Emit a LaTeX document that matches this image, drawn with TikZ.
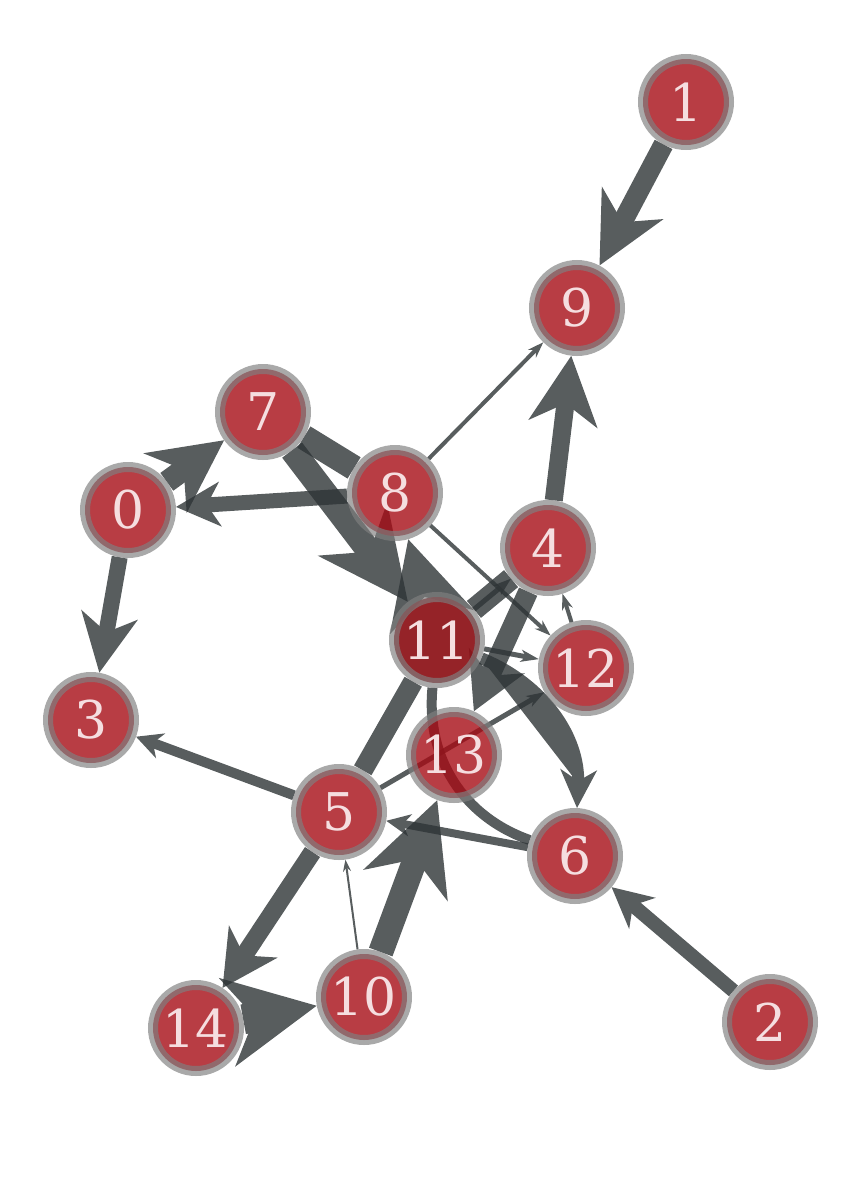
\documentclass[tikz,border=0pt]{standalone}
\usepackage{fontspec}
\setmainfont{DejaVu Serif}
\usetikzlibrary{arrows.meta}
\newlength{\du}
\setlength{\du}{1pt}
\definecolor{edgecolor}{RGB}{46,52,54}
\definecolor{vertexfill}{RGB}{166,12,21}
\definecolor{vertexdark}{RGB}{140,16,22}
\definecolor{vertexline}{RGB}{128,128,128}
\definecolor{vertextext}{RGB}{245,222,224}
\pgfdeclarelayer{edgelayer}
\pgfsetlayers{edgelayer,main}
\tikzset{
  vertex/.style={circle, minimum size=86\du, inner sep=0pt, line width=10\du,
    draw=vertexline, draw opacity=0.68, fill=vertexfill, fill opacity=0.8,
    text=vertextext, text opacity=1, font=\fontsize{52pt}{56pt}\selectfont},
  edge/.style n args={4}{draw=edgecolor, fill=edgecolor, line width=#1\du,
    -{Stealth[length=#2pt, width=#3pt, inset=#4pt]}},
  band/.style={draw=edgecolor, line width=#1\du}
}
% one edge = one transparency group
\newcommand{\gedge}[2]{\begin{scope}[transparency group, opacity=0.8]\draw[#1] #2;\end{scope}}

\begin{document}
\begin{tikzpicture}[x=1\du, y=-1\du]
\useasboundingbox (0,0) rectangle (856,1200);
% vertices
\node[vertex] (n0) at (128,510) {0};
\node[vertex] (n1) at (686,102) {1};
\node[vertex] (n2) at (770,1022) {2};
\node[vertex] (n3) at (91,720) {3};
\node[vertex] (n4) at (548,548) {4};
\node[vertex] (n5) at (339,812) {5};
\node[vertex] (n6) at (575,856) {6};
\node[vertex] (n7) at (263,412) {7};
\node[vertex] (n8) at (395,493) {8};
\node[vertex] (n9) at (577,308) {9};
\node[vertex] (n10) at (364,997) {10};
\node[vertex, fill=vertexdark, fill opacity=0.92] (n11) at (437,640) {11};
\node[vertex] (n12) at (586,668) {12};
\node[vertex] (n13) at (454,755) {13};
\node[vertex] (n14) at (196,1028) {14};
% edges
\begin{pgfonlayer}{edgelayer}
\gedge{edge={20}{70}{68}{21}}{(n1) -- (n9)}
\gedge{edge={18}{68}{68}{20}}{(n4) -- (n9)}
\gedge{edge={16}{58}{56}{17}}{(n0) -- (n3)}
\gedge{edge={22}{72}{72}{22}}{(n0) -- (n7)}
\gedge{edge={15}{44}{44}{13}}{(n8) -- (n0)}
\gedge{band=25}{(n7) -- (n8)}
\gedge{edge={25}{90}{85}{27}}{(n7) -- (n11)}
\gedge{edge={25}{85}{85}{25}}{(n11) -- (n8)}
\gedge{edge={4}{16}{11}{5}}{(n8) -- (n9)}
\gedge{edge={4}{16}{11}{5}}{(n8) -- (n12)}
\gedge{edge={5}{18}{12}{5}}{(n11) -- (n12)}
\gedge{edge={4}{16}{11}{5}}{(n12) -- (n4)}
\gedge{edge={5}{18}{12}{5}}{(n5) -- (n12)}
\gedge{edge={2}{12}{8}{4}}{(n10) -- (n5)}
\gedge{edge={5}{18}{12}{5}}{(n11) -- (n4)}
\gedge{edge={10}{26}{26}{8}}{(n5) -- (n3)}
\gedge{edge={8}{24}{22}{7}}{(n6) -- (n5)}
\gedge{edge={14}{40}{40}{12}}{(n2) -- (n6)}
\gedge{edge={12}{38}{36}{11}}{(n11) to[bend left=35] (n6)}
\gedge{band=10}{(n6) to[bend left=38] (n11)}
\gedge{band=20}{(n5) -- (n11)}
\gedge{band=22}{(n4) -- (n11)}
\gedge{edge={20}{55}{60}{16}}{(n4) -- (n13)}
\gedge{edge={25}{90}{88}{27}}{(n10) -- (n13)}
\gedge{edge={18}{55}{57}{16}}{(n5) -- (n14)}
\gedge{edge={30}{90}{88}{27}}{(n14) -- (n10)}
\end{pgfonlayer}
\end{tikzpicture}
\end{document}
